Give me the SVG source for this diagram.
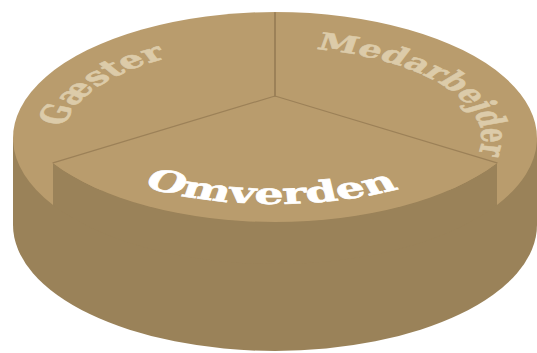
<svg xmlns="http://www.w3.org/2000/svg" width="537" height="353" viewBox="0 0 537 353">
  <style>
    .top { fill: #B99C6D; }
    .side { fill: #9A8259; }
    .div { stroke: #9C8158; fill: none; stroke-linecap: round; }
    .lbl { font-family: "DejaVu Serif", "Liberation Serif", serif; font-weight: bold; stroke-linejoin: round; }
    .cream { fill: #DCCBA9; stroke: #DCCBA9; stroke-width: 0.9; }
    .white { fill: #FFFFFF; stroke: #FFFFFF; stroke-width: 1; }
  </style>
  <defs>
    <path id="pG" d="M-210.4,-18.3 A212,150 0 0 1 -18.5,-149.4"/>
    <path id="pM" d="M40.9,-143.1 A206.6,146 0 0 1 194.1,49.9"/>
    <path id="pO" d="M-132,146.1 A243,174 0 0 0 156.2,133.3"/>
  </defs>

  <g id="cylinder-body">
    <path class="side" d="M13,138 L13,225 A262,126 0 0 0 537,225 L537,138 Z"/>
  </g>

  <g id="sector-gaester">
    <path class="top" d="M275,138 L275,12 A262,126 0 0 0 53,204.9 Z"/>
    <g transform="translate(275,138) scale(1,0.62)">
      <text class="lbl cream" font-size="39"><textPath href="#pG" textLength="157" lengthAdjust="spacingAndGlyphs">Gæster</textPath></text>
    </g>
  </g>

  <g id="sector-medarbejder">
    <path class="top" d="M275,138 L275,12 A262,126 0 0 1 497,204.9 Z"/>
    <g transform="translate(275,138) scale(1,0.62)">
      <text class="lbl cream" font-size="38"><textPath href="#pM" textLength="265" lengthAdjust="spacingAndGlyphs">Medarbejder</textPath></text>
    </g>
  </g>

  <g id="sector-omverden">
    <path class="side" d="M53,162.9 L53,204.9 A262,126 0 0 0 497,204.9 L497,162.9 A262,126 0 0 1 53,162.9 Z"/>
    <path class="top" d="M275,96 L53,162.9 A262,126 0 0 0 497,162.9 Z"/>
    <g transform="translate(275,96) scale(1,0.62)">
      <text class="lbl white" font-size="47"><textPath href="#pO" textLength="263" lengthAdjust="spacingAndGlyphs">Omverden</textPath></text>
    </g>
  </g>

  <g id="dividers">
    <line class="div" x1="275" y1="13" x2="275" y2="96" stroke-width="2"/>
    <line class="div" x1="275" y1="96" x2="53" y2="162.9" stroke-width="1.2"/>
    <line class="div" x1="275" y1="96" x2="497" y2="162.9" stroke-width="1.2"/>
  </g>
</svg>
